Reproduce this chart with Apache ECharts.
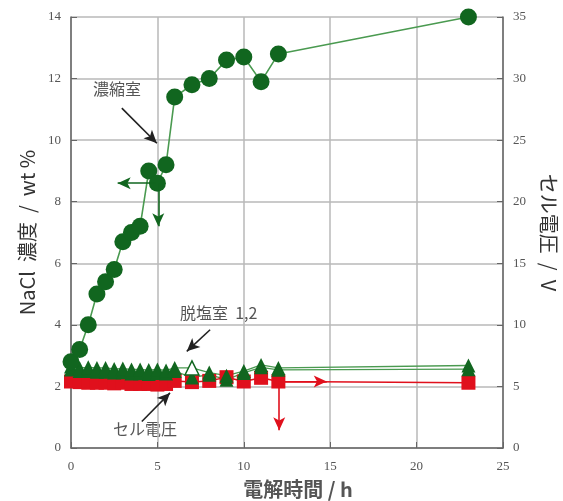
<!DOCTYPE html>
<html><head><meta charset="utf-8">
<script src="https://cdn.jsdelivr.net/npm/echarts@6/dist/echarts.min.js"></script>
<style>html,body{margin:0;padding:0;background:#fff}#c{width:563px;height:501px}</style>
</head><body><div id="c"></div>
<script>
// electrolysis time (h)
const hours = [0,0.5,1,1.5,2,2.5,3,3.5,4,4.5,5,5.5,6,7,8,9,10,11,12,23];
// NaCl concentration, wt% (left axis)
const concentrate = [2.8,3.2,4.0,5.0,5.4,5.8,6.7,7.0,7.2,9.0,8.6,9.2,11.4,11.8,12.0,12.6,12.7,11.9,12.8,14.0];
const dilute1 = [2.65,2.6,2.62,2.6,2.6,2.57,2.58,2.55,2.55,2.53,2.55,2.52,2.6,2.6,2.45,2.35,2.5,2.7,2.6,2.68];
const dilute2 = [2.55,2.5,2.5,2.48,2.48,2.45,2.46,2.42,2.43,2.4,2.44,2.42,2.5,2.29,2.38,2.22,2.44,2.62,2.54,2.56];
// cell voltage, V (right axis)
const cellVoltage = [5.4,5.35,5.3,5.3,5.3,5.25,5.3,5.2,5.2,5.2,5.15,5.2,5.45,5.35,5.45,5.75,5.4,5.7,5.4,5.3];
// axis ranges
const xRange = [0,25,5];
const leftRange = [0,14,2];
const rightRange = [0,35,5];
// labels
const xName = '電解時間 / h';
const leftName = 'NaCl  濃度  /  wt %';
const rightName = 'セル電圧  /  V';
const noteConc = '濃縮室';
const noteDil = '脱塩室  1,2';
const noteCell = 'セル電圧';

const GREEN = '#11661f', GREENLINE = '#4a9a50', RED = '#e0101c', GRID = '#b8b8b8', AXIS = '#666';
const SERIF = '"Liberation Serif","Times New Roman",serif';
const JP = '"Noto Sans CJK JP","Liberation Serif",sans-serif';

const zip = (xs, ys) => xs.map((x,i)=>[x, ys[i]]);
const dil1Data = zip(hours, dilute1).map((p,i)=> i===13 ? {value:p, itemStyle:{color:'#fff', borderColor:GREEN, borderWidth:1.5}} : p);

function arrow(a, b, color){
  return [{coord:a, lineStyle:{color:color, width:1.6, type:'solid'}}, {coord:b}];
}

const chart = echarts.init(document.getElementById('c'), null, {renderer:'canvas'});
chart.setOption({
  animation:false,
  backgroundColor:'#fff',
  grid:{left:71, right:60, top:17, bottom:53, containLabel:false, outerBoundsMode:'none'},
  xAxis:{type:'value', min:xRange[0], max:xRange[1], interval:xRange[2],
    name:xName, nameLocation:'middle', nameGap:31,
    nameTextStyle:{fontFamily:JP, fontSize:20, color:'#555', fontWeight:'bold', padding:[0,0,0,22]},
    axisLine:{lineStyle:{color:AXIS, width:1.5}},
    axisTick:{inside:true, length:6, lineStyle:{color:AXIS}},
    axisLabel:{fontFamily:SERIF, fontSize:13, color:'#555', margin:12},
    splitLine:{show:true, lineStyle:{color:GRID, width:1.5}}},
  yAxis:[
    {type:'value', min:leftRange[0], max:leftRange[1], interval:leftRange[2], position:'left',
     name:leftName, nameLocation:'middle', nameGap:34,
     nameTextStyle:{fontFamily:JP, fontSize:20, color:'#333'},
     axisLine:{show:true, lineStyle:{color:AXIS, width:1.5}},
     axisTick:{show:true, inside:true, length:6, lineStyle:{color:AXIS}},
     axisLabel:{fontFamily:SERIF, fontSize:13, color:'#555', margin:10},
     splitLine:{show:true, lineStyle:{color:GRID, width:1.5}}},
    {type:'value', min:rightRange[0], max:rightRange[1], interval:rightRange[2], position:'right',
     name:rightName, nameLocation:'middle', nameGap:36, nameRotate:-90,
     nameTextStyle:{fontFamily:JP, fontSize:20, color:'#333'},
     axisLine:{show:true, lineStyle:{color:AXIS, width:1.5}},
     axisTick:{show:true, inside:true, length:6, lineStyle:{color:AXIS}},
     axisLabel:{fontFamily:SERIF, fontSize:13, color:'#555', margin:10},
     splitLine:{show:false}}
  ],
  series:[
    {name:'cell', type:'line', yAxisIndex:1, data:zip(hours, cellVoltage),
     symbol:'rect', symbolSize:14, itemStyle:{color:RED}, lineStyle:{color:RED, width:1.5},
     markLine:{silent:true, symbol:['none','arrow'], symbolSize:[9,13], label:{show:false},
       data:[arrow([12.05,5.4],[14.8,5.4],RED), arrow([12.05,5.4],[12.05,1.45],RED)]}},
    {name:'dil2', type:'line', data:zip(hours, dilute2),
     symbol:'triangle', symbolSize:14, itemStyle:{color:GREEN}, lineStyle:{color:GREENLINE, width:1.3}},
    {name:'dil1', type:'line', data:dil1Data,
     symbol:'triangle', symbolSize:14, itemStyle:{color:GREEN}, lineStyle:{color:GREENLINE, width:1.3}},
    {name:'conc', type:'line', data:zip(hours, concentrate),
     symbol:'circle', symbolSize:17, itemStyle:{color:GREEN}, lineStyle:{color:GREENLINE, width:1.6},
     markLine:{silent:true, symbol:['none','arrow'], symbolSize:[9,13], label:{show:false},
       data:[arrow([4.9,8.6],[2.7,8.6],GREEN), arrow([5.05,8.6],[5.05,7.2],GREEN),
             arrow([2.94,11.04],[4.97,9.9],'#222'), arrow([8.05,3.84],[6.7,3.14],'#222'),
             arrow([4.1,0.86],[5.73,1.79],'#222')]}}
  ],
  graphic:[
    {type:'text', left:93, top:81, style:{text:noteConc, font:'16px '+JP, fill:'#555'}},
    {type:'text', left:180, top:305, style:{text:noteDil, font:'16px '+JP, fill:'#555'}},
    {type:'text', left:113, top:421, style:{text:noteCell, font:'16px '+JP, fill:'#555'}}
  ]
});
</script></body></html>
